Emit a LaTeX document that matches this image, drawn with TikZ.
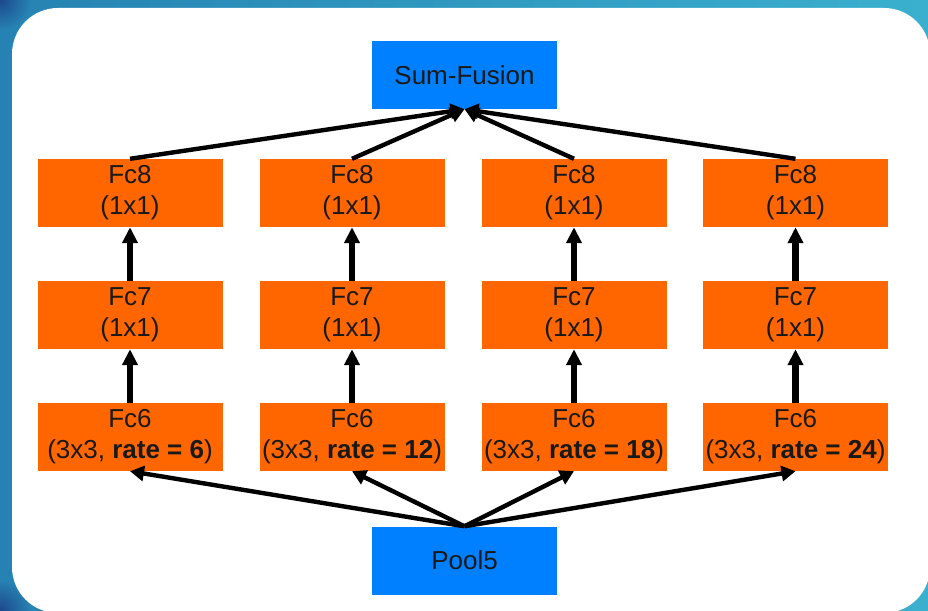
\documentclass[tikz,border=0pt]{standalone}
\usepackage{fontspec}
\setmainfont{Liberation Sans}
\usetikzlibrary{arrows.meta}
\definecolor{bgleft}{RGB}{38,130,178}
\definecolor{bgright}{RGB}{58,176,206}
\definecolor{bgdark}{RGB}{28,72,140}
\definecolor{fuseblue}{RGB}{0,128,255}
\definecolor{convorange}{RGB}{255,102,0}
\begin{document}
\begin{tikzpicture}[x=1pt,y=-1pt,
  box/.style={minimum width=185pt, minimum height=68pt, inner sep=0pt,
    align=center, font=\fontsize{26}{31}\selectfont, text=black!90},
  fuse/.style={box, fill=fuseblue},
  layer/.style={box, fill=convorange},
  flow/.style={line width=4.4pt, -{Triangle[length=14pt,width=15pt]}},
  upflow/.style={line width=6.5pt, -{Triangle[length=16pt,width=15pt]}}]
\useasboundingbox (0,0) rectangle (928,610);
% frame background
\shade[left color=bgleft, right color=bgright] (0,0) rectangle (928,610);
\shade[inner color=bgdark, outer color=bgleft] (0,0) circle (30);
\shade[inner color=bgdark, outer color=bgleft] (0,610) circle (30);
\fill[white, rounded corners=46pt] (12,8) rectangle (930,613);

% top and bottom blocks
\node[fuse] (sum) at (464.5,75) {Sum-Fusion};
\node[fuse] (pool) at (464.5,560.5) {Pool5};

% four parallel branches
\foreach \name/\x/\r in {a/130/6, b/352/12, c/574/18, d/795.5/24}{
  \node[layer] (fc8\name) at (\x,193) {Fc8\\(1x1)};
  \node[layer] (fc7\name) at (\x,315) {Fc7\\(1x1)};
  \node[layer] (fc6\name) at (\x,437) {Fc6\\(3x3, \textbf{rate = \r})};
  \draw[upflow] (fc6\name) -- (fc7\name);
  \draw[upflow] (fc7\name) -- (fc8\name);
  \draw[flow] (pool.north) -- (fc6\name.south);
  \draw[flow] (fc8\name.north) -- (sum.south);
}
\end{tikzpicture}
\end{document}
